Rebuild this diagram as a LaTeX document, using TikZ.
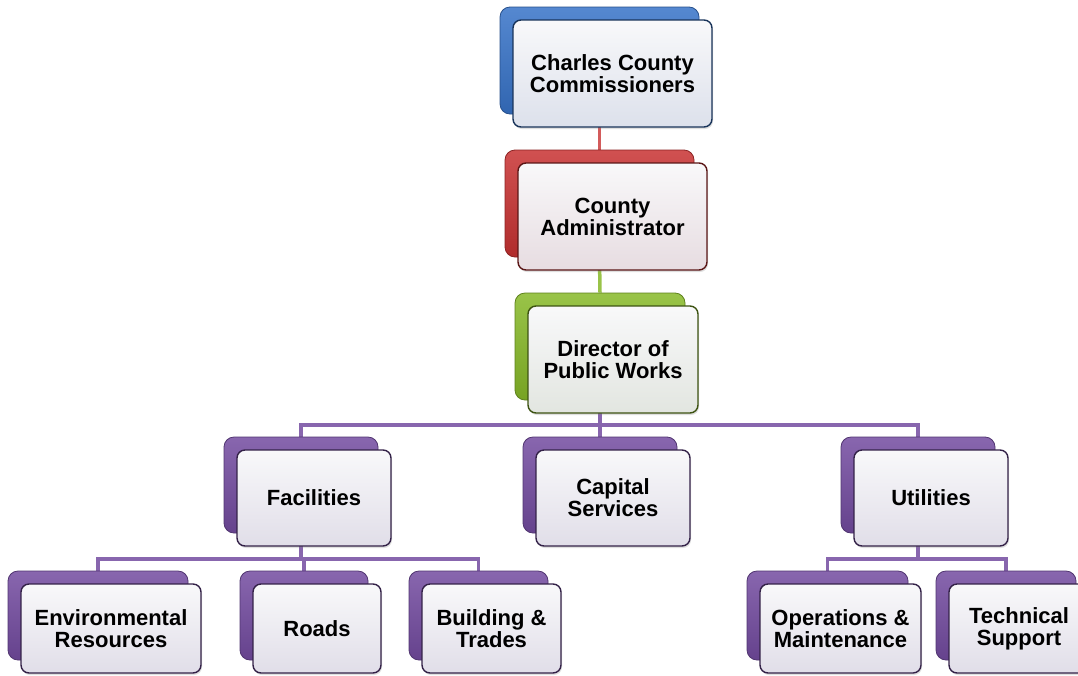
\documentclass[tikz,border=0pt]{standalone}
\usepackage{fontspec}
\setmainfont{Liberation Sans}
\usetikzlibrary{positioning,calc,backgrounds,shadows}
\definecolor{cBlu}{RGB}{55,115,200}
\definecolor{cRed}{RGB}{200,50,50}
\definecolor{cGrn}{RGB}{135,185,40}
\definecolor{cPur}{RGB}{115,75,160}
\definecolor{cFr}{RGB}{233,233,238}

\begin{document}
\begin{tikzpicture}[
  x=1pt, y=-1pt,
  font=\fontsize{22}{22}\selectfont\bfseries,
  sz/.style 2 args = {minimum width=#1pt, minimum height=#2pt, inner sep=0pt},
  back/.style      = {draw=#1!70!black, line width=0.8pt, rounded corners=10pt,
                      top color=#1!85!white, bottom color=#1!88!black},
  front/.style     = {draw=#1!45!black, line width=1.4pt, rounded corners=8pt,
                      top color=white!70!cFr, bottom color=#1!7!cFr, align=center,
                      drop shadow={opacity=0.25, shadow xshift=1pt, shadow yshift=-2pt}},
  link/.style      = {draw=#1, line width=3.5pt}
]
\path[use as bounding box, clip] (0,0) rectangle (1078,675);

% ------------------------------------------------------------ vertice --
\node[back=cBlu, sz={199}{107}]  (cc-b) at (599.5,60.5) {};
\node[front=cBlu, sz={199}{107}] (cc)   at ($(cc-b)+(13,13)$) {Charles County\\Commissioners};

\node[back=cRed, sz={189}{107}]  (ca-b) at (599.5,203.5) {};
\node[front=cRed, sz={189}{107}] (ca)   at ($(ca-b)+(13,13)$) {County\\Administrator};

\node[back=cGrn, sz={170}{107}]  (dp-b) at (600,346.5) {};
\node[front=cGrn, sz={170}{107}] (dp)   at ($(dp-b)+(13,13)$) {Director of\\Public Works};

% ------------------------------------------------------------ divisioni --
\node[back=cPur, sz={154}{96}]  (fac-b) at (301,485) {};
\node[front=cPur, sz={154}{96}] (fac)   at ($(fac-b)+(13,13)$) {Facilities};

\node[back=cPur, sz={154}{96}]  (cap-b) at (600,485) {};
\node[front=cPur, sz={154}{96}] (cap)   at ($(cap-b)+(13,13)$) {Capital\\Services};

\node[back=cPur, sz={154}{96}]  (uti-b) at (918,485) {};
\node[front=cPur, sz={154}{96}] (uti)   at ($(uti-b)+(13,13)$) {Utilities};

% ------------------------------------------------------------ sezioni --
\node[back=cPur, sz={180}{89}]  (env-b) at (98,615.5) {};
\node[front=cPur, sz={180}{89}] (env)   at ($(env-b)+(13,13)$) {Environmental\\Resources};

\node[back=cPur, sz={128}{89}]  (roa-b) at (304,615.5) {};
\node[front=cPur, sz={128}{89}] (roa)   at ($(roa-b)+(13,13)$) {Roads};

\node[back=cPur, sz={139}{89}]  (bld-b) at (478.5,615.5) {};
\node[front=cPur, sz={139}{89}] (bld)   at ($(bld-b)+(13,13)$) {Building \&\\Trades};

\node[back=cPur, sz={161}{89}]  (om-b) at (827.5,615.5) {};
\node[front=cPur, sz={161}{89}] (om)   at ($(om-b)+(13,13)$) {Operations \&\\Maintenance};

\node[back=cPur, sz={140}{89}]  (ts-b) at (1006,615.5) {};
\node[front=cPur, sz={140}{89}] (ts)   at ($(ts-b)+(13,13)$) {Technical\\Support};

% ------------------------------------------------------------ linee --
\begin{scope}[on background layer]
  \draw[link=cRed!80!white] (cc-b.south) -- (ca-b.north);
  \draw[link=cGrn!85!white] (ca-b.south) -- (dp-b.north);
  \coordinate (bus1) at (600,425);
  \foreach \k in {fac,cap,uti}
    \draw[link=cPur!85!white] (dp-b.south) |- (bus1) -| (\k-b.north);
  \coordinate (bus2) at (301,559);
  \foreach \k in {env,roa,bld}
    \draw[link=cPur!85!white] (fac-b.south) |- (bus2) -| (\k-b.north);
  \coordinate (bus3) at (918,559);
  \foreach \k in {om,ts}
    \draw[link=cPur!85!white] (uti-b.south) |- (bus3) -| (\k-b.north);
\end{scope}

\end{tikzpicture}
\end{document}
